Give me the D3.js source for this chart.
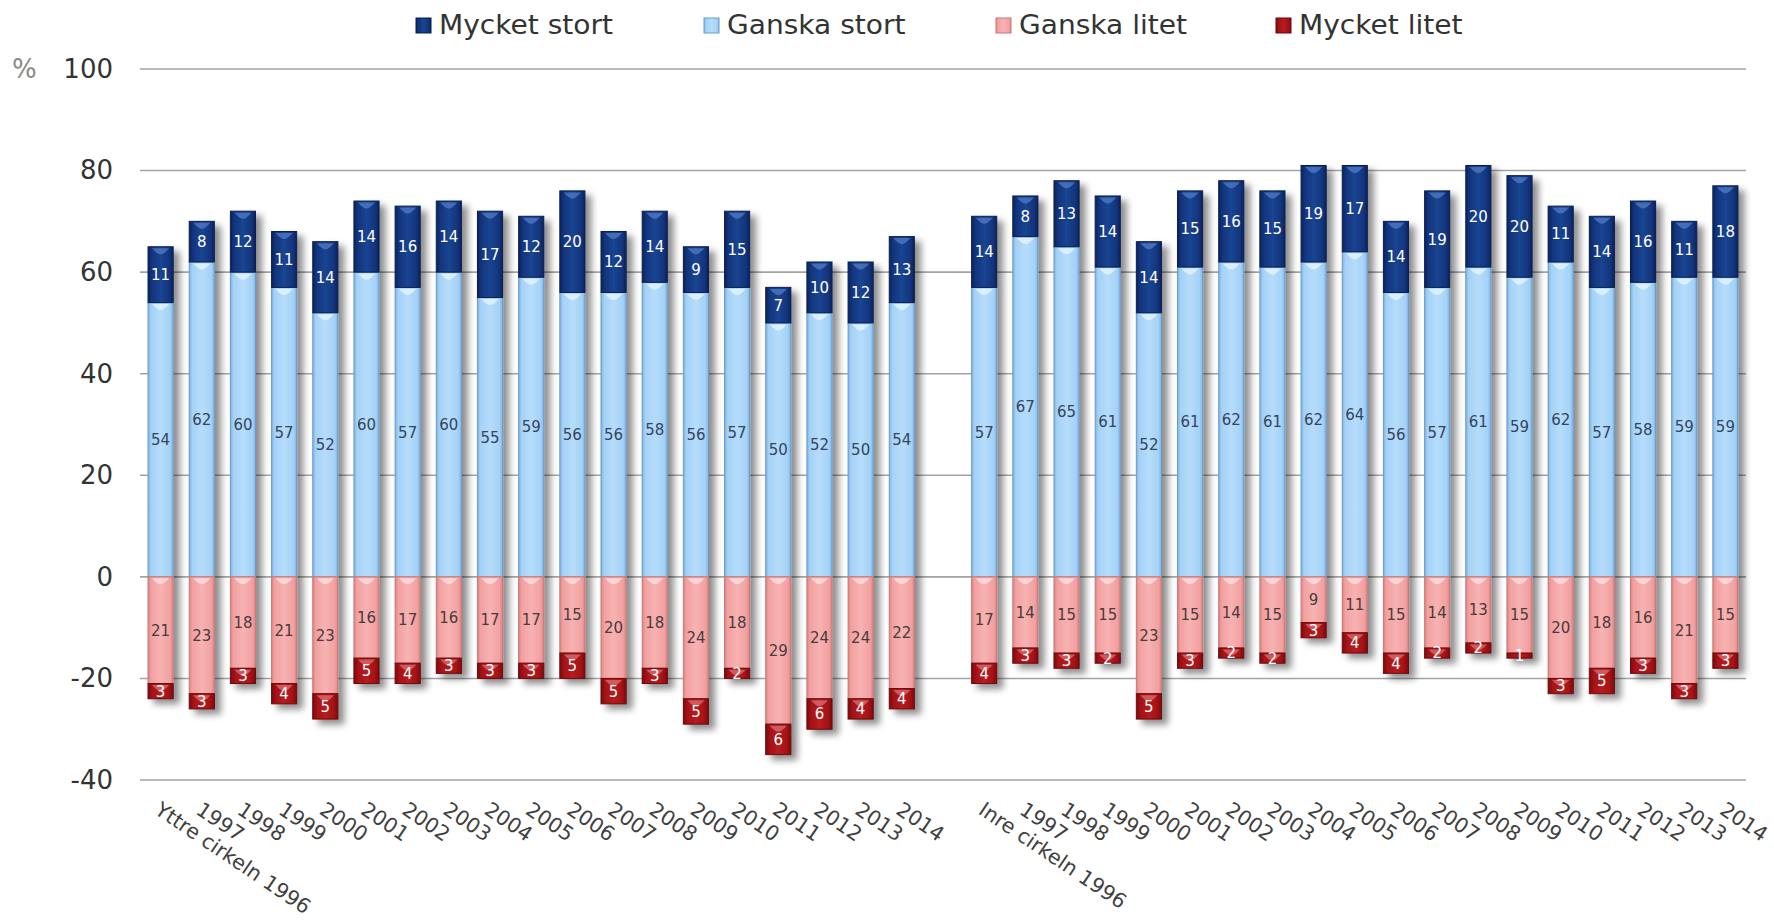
<!DOCTYPE html>
<html><head><meta charset="utf-8">
<script src="https://cdn.jsdelivr.net/npm/d3@7"></script>
<style>
html,body{margin:0;padding:0;background:#fff;}
svg{display:block;font-family:"DejaVu Sans",Verdana,sans-serif;}
</style>
</head><body>
<svg id="chart" width="1774" height="923"></svg>
<script>
const categories = ["Yttre cirkeln 1996","1997","1998","1999","2000","2001","2002","2003","2004","2005","2006","2007","2008","2009","2010","2011","2012","2013","2014","",
  "Inre cirkeln 1996","1997","1998","1999","2000","2001","2002","2003","2004","2005","2006","2007","2008","2009","2010","2011","2012","2013","2014"];
const mycketStort = [11,8,12,11,14,14,16,14,17,12,20,12,14,9,15,7,10,12,13, null,
  14,8,13,14,14,15,16,15,19,17,14,19,20,20,11,14,16,11,18];
const ganskaStort = [54,62,60,57,52,60,57,60,55,59,56,56,58,56,57,50,52,50,54, null,
  57,67,65,61,52,61,62,61,62,64,56,57,61,59,62,57,58,59,59];
const ganskaLitet = [21,23,18,21,23,16,17,16,17,17,15,20,18,24,18,29,24,24,22, null,
  17,14,15,15,23,15,14,15,9,11,15,14,13,15,20,18,16,21,15];
const mycketLitet = [3,3,3,4,5,5,4,3,3,3,5,5,3,5,2,6,6,4,4, null,
  4,3,3,2,5,3,2,2,3,4,4,2,2,1,3,5,3,3,3];
const seriesNames = ["Mycket stort","Ganska stort","Ganska litet","Mycket litet"];
const yTicks = [-40,-20,0,20,40,60,80,100];

const styles = {
  "Mycket stort": {edge:"#0a2257", base:"#11327a", light:"#1a4592", stroke:"#0a1f4e", text:"#ffffff", lip:"#4f78c0"},
  "Ganska stort": {edge:"#7eb2e0", base:"#a4d2f7", light:"#b6dcfb", stroke:"#6d9ccb", text:"#34455e", lip:"#e4f5ff"},
  "Ganska litet": {edge:"#d98484", base:"#f3a0a0", light:"#f7b2b2", stroke:"#c97a7a", text:"#4a3b3b", lip:"#ffdede"},
  "Mycket litet": {edge:"#760a0d", base:"#9e1015", light:"#b81c20", stroke:"#6a080b", text:"#ffffff", lip:"#d86a6a"}
};

const svg = d3.select("#chart");
const W = 1774, H = 923;
svg.append("rect").attr("width",W).attr("height",H).attr("fill","#fff");

const defs = svg.append("defs");
const f = defs.append("filter").attr("id","shadow").attr("x","-30%").attr("y","-10%").attr("width","180%").attr("height","130%");
f.append("feGaussianBlur").attr("in","SourceAlpha").attr("stdDeviation",3.5).attr("result","b");
f.append("feOffset").attr("in","b").attr("dx",6).attr("dy",5).attr("result","o");
f.append("feComponentTransfer").attr("in","o").attr("result","s").append("feFuncA").attr("type","linear").attr("slope",0.45);
const fm = f.append("feMerge");
fm.append("feMergeNode").attr("in","s");
fm.append("feMergeNode").attr("in","SourceGraphic");

seriesNames.forEach((n,i)=>{
  const s = styles[n];
  const g = defs.append("linearGradient").attr("id","g"+i).attr("x1","0").attr("x2","1").attr("y1","0").attr("y2","0");
  [[0,s.edge],[0.12,s.base],[0.5,s.light],[0.88,s.base],[1,s.edge]].forEach(([o,c])=>g.append("stop").attr("offset",o).attr("stop-color",c));
});

const x = d3.scaleBand().domain(d3.range(categories.length)).range([140,1746]).paddingInner(0.39).paddingOuter(0.195);
const y = d3.scaleLinear().domain([-40,100]).range([780,69]);

// gridlines
svg.append("g").selectAll("line").data(yTicks).join("line")
  .attr("x1",140).attr("x2",1746).attr("y1",d=>y(d)).attr("y2",d=>y(d))
  .attr("stroke","#a3a3a3").attr("stroke-width",1.6);

// y axis labels
const yAxis = svg.append("g").attr("transform","translate(113,0)")
  .call(d3.axisLeft(y).tickValues(yTicks).tickSize(0).tickPadding(0).tickFormat(d=>String(d)));
yAxis.select(".domain").remove();
yAxis.selectAll("text").attr("font-size",26).attr("fill","#333").attr("font-family","DejaVu Sans");
svg.append("text").attr("x",12).attr("y",y(100)).attr("dy","0.34em").attr("font-size",26).attr("fill","#8a8a8a").text("%");

// stacked segments
const segs = [];
categories.forEach((c,i)=>{
  if (ganskaStort[i]==null) return;
  const gs = ganskaStort[i], ms = mycketStort[i], gl = ganskaLitet[i], ml = mycketLitet[i];
  segs.push({i, s:1, y0:0, y1:gs, v:gs});
  segs.push({i, s:0, y0:gs, y1:gs+ms, v:ms});
  segs.push({i, s:2, y0:0, y1:-gl, v:gl});
  segs.push({i, s:3, y0:-gl, y1:-(gl+ml), v:ml});
});
const bars = svg.append("g");
const groups = bars.selectAll("g.bar").data(d3.group(segs, d=>d.i)).join("g").attr("class","bar").attr("filter","url(#shadow)");
groups.selectAll("rect.seg").data(d=>d[1]).join("rect").attr("class","seg")
  .attr("x",d=>x(d.i)).attr("width",x.bandwidth())
  .attr("y",d=>y(Math.max(d.y0,d.y1))).attr("height",d=>Math.abs(y(d.y0)-y(d.y1)))
  .attr("fill",d=>"url(#g"+d.s+")")
  .attr("stroke",d=>styles[seriesNames[d.s]].stroke).attr("stroke-width",1);
// top lip highlight
groups.selectAll("path.lip").data(d=>d[1].filter(s=>Math.abs(y(s.y0)-y(s.y1))>6)).join("path").attr("class","lip")
  .attr("d",d=>{
    const x0 = x(d.i)+4, w = x.bandwidth()-8, t = y(Math.max(d.y0,d.y1))+1.5;
    return `M${x0},${t} L${x0+w},${t} Q${x0+w*0.7},${t+6} ${x0+w/2},${t+6} Q${x0+w*0.3},${t+6} ${x0},${t} Z`;
  })
  .attr("fill",d=>styles[seriesNames[d.s]].lip).attr("opacity",0.8);

// data labels
svg.append("g").selectAll("text").data(segs).join("text")
  .attr("x",d=>x(d.i)+x.bandwidth()/2).attr("y",d=>y((d.y0+d.y1)/2)).attr("dy","0.36em")
  .attr("text-anchor","middle").attr("font-size",15).attr("fill",d=>styles[seriesNames[d.s]].text)
  .text(d=>d.v);

// x labels
svg.append("g").selectAll("text").data(categories.map((c,i)=>({c,i})).filter(d=>d.c!=="")).join("text")
  .attr("transform",d=>`translate(${x(d.i)+x.bandwidth()/2-7},813) rotate(34)`)
  .attr("font-size",20.5).attr("fill","#404040").text(d=>d.c);

// legend
const leg = svg.append("g");
const legX = [416,704,996,1276];
seriesNames.forEach((n,i)=>{
  const g = leg.append("g").attr("transform",`translate(${legX[i]},0)`);
  g.append("rect").attr("x",0).attr("y",18).attr("width",15).attr("height",15)
    .attr("fill","url(#g"+i+")").attr("stroke",styles[n].stroke).attr("stroke-width",1);
  g.append("text").attr("transform","translate(23,34) scale(1.08,1)").attr("font-size",26).attr("fill","#333").text(n);
});
</script>
</body></html>
